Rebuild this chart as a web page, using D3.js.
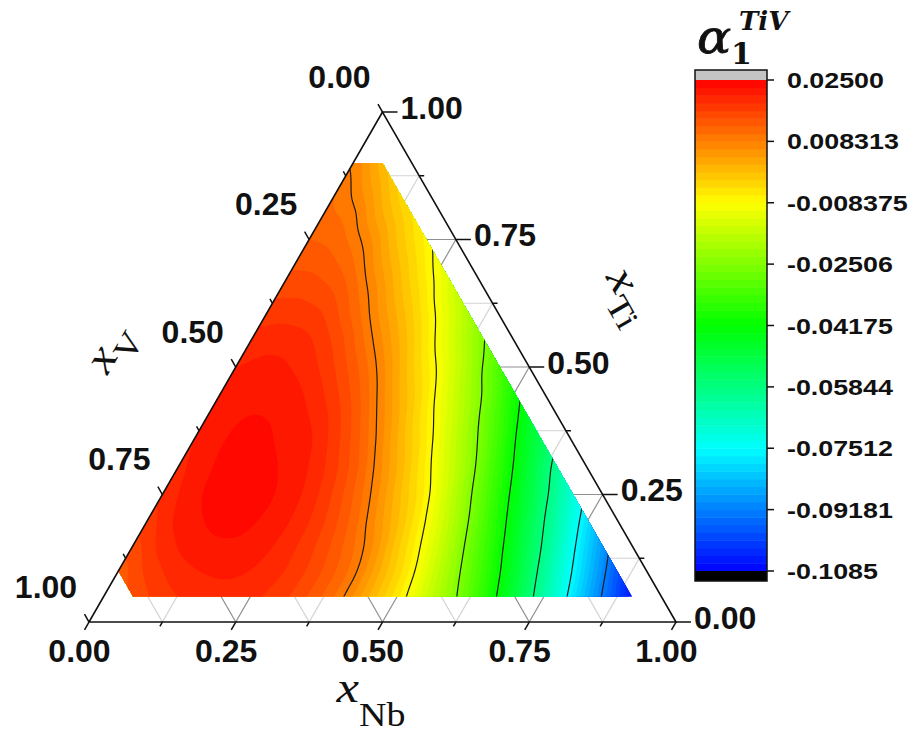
<!DOCTYPE html>
<html>
<head>
<meta charset="utf-8">
<script src="https://cdn.jsdelivr.net/npm/d3@7"></script>
<style>
  body { margin: 0; background: #fff; }
  svg { display: block; }
</style>
</head>
<body>
<svg id="chart" width="918" height="733"></svg>
<script>
// ---- data: alpha_1^TiV over the Nb–Ti–V composition triangle ----
// one row per Ti mole fraction, x_Nb stepping by 0.05 from nbFirst
const tiRows = [0.05, 0.10, 0.15, 0.20, 0.25, 0.30, 0.35, 0.40, 0.45,
                0.50, 0.55, 0.60, 0.65, 0.70, 0.75, 0.80, 0.85, 0.90];
const nbFirst = [0.05, 0, 0, 0, 0, 0, 0, 0, 0, 0, 0, 0, 0, 0, 0, 0, 0, 0];
const nbStep = 0.05;
const alphaRows = [
  [0.0150, 0.0178, 0.0193, 0.0198, 0.0192, 0.0175, 0.0142, 0.0095, 0.0022, -0.0056, -0.0148, -0.0247, -0.0369, -0.0497, -0.0635, -0.0782, -0.0924, -0.1060],
  [0.0135, 0.0172, 0.0198, 0.0210, 0.0212, 0.0200, 0.0178, 0.0142, 0.0092, 0.0012, -0.0074, -0.0178, -0.0291, -0.0415, -0.0546, -0.0687, -0.0830, -0.0975],
  [0.0158, 0.0195, 0.0218, 0.0226, 0.0222, 0.0203, 0.0174, 0.0132, 0.0074, -0.0013, -0.0104, -0.0216, -0.0338, -0.0467, -0.0596, -0.0740, -0.0884],
  [0.0178, 0.0212, 0.0230, 0.0234, 0.0226, 0.0204, 0.0168, 0.0115, 0.0042, -0.0040, -0.0139, -0.0259, -0.0389, -0.0517, -0.0649, -0.0792],
  [0.0192, 0.0222, 0.0236, 0.0236, 0.0226, 0.0199, 0.0154, 0.0090, 0.0009, -0.0073, -0.0185, -0.0309, -0.0440, -0.0565, -0.0701],
  [0.0202, 0.0226, 0.0236, 0.0233, 0.0220, 0.0188, 0.0135, 0.0059, -0.0025, -0.0118, -0.0231, -0.0361, -0.0490, -0.0618],
  [0.0208, 0.0228, 0.0234, 0.0227, 0.0211, 0.0168, 0.0104, 0.0020, -0.0064, -0.0168, -0.0283, -0.0415, -0.0538],
  [0.0211, 0.0227, 0.0229, 0.0218, 0.0193, 0.0141, 0.0067, -0.0019, -0.0108, -0.0216, -0.0338, -0.0467],
  [0.0212, 0.0222, 0.0220, 0.0203, 0.0166, 0.0107, 0.0026, -0.0056, -0.0156, -0.0264, -0.0390],
  [0.0208, 0.0214, 0.0206, 0.0181, 0.0134, 0.0068, -0.0016, -0.0099, -0.0204, -0.0321],
  [0.0196, 0.0200, 0.0190, 0.0155, 0.0095, 0.0025, -0.0058, -0.0151, -0.0253],
  [0.0180, 0.0180, 0.0166, 0.0119, 0.0053, -0.0018, -0.0101, -0.0198],
  [0.0160, 0.0158, 0.0138, 0.0083, 0.0011, -0.0062, -0.0151],
  [0.0142, 0.0136, 0.0106, 0.0040, -0.0030, -0.0105],
  [0.0125, 0.0113, 0.0070, -0.0003, -0.0071],
  [0.0110, 0.0088, 0.0022, -0.0043],
  [0.0100, 0.0050, -0.0021],
  [0.0078, 0.0008]
];

// colour scale ticks (also the contour-line levels)
const colorTicks = [0.02500, 0.008313, -0.008375, -0.02506, -0.04175,
                    -0.05844, -0.07512, -0.09181, -0.1085];
const colorTickLabels = ["0.02500", "0.008313", "-0.008375", "-0.02506", "-0.04175",
                         "-0.05844", "-0.07512", "-0.09181", "-0.1085"];
const valueMax = 0.025, valueMin = -0.1085;

// ternary axis ticks
const axisTicks = [0, 0.25, 0.5, 0.75, 1];
const axisTickLabels = ["0.00", "0.25", "0.50", "0.75", "1.00"];
const minorTicks = [0.125, 0.375, 0.625, 0.875];

// ---- layout ----
const svg = d3.select("#chart");
const sansBold = "'Liberation Sans', Arial, sans-serif";
const serif = "'Liberation Serif', 'Times New Roman', serif";

// x_Nb runs along the base, x_Ti upwards; x_V is the remainder
const xs = d3.scaleLinear().domain([0, 1]).range([89, 676]);
const ys = d3.scaleLinear().domain([0, 1]).range([622, 112]);
const P = (nb, ti) => [xs(nb + ti / 2), ys(ti)];

// hue runs red -> blue over the value range
const hue = d3.scaleLinear().domain([valueMax, valueMin]).range([0, 240]);
const colorOf = v => d3.hsl(hue(Math.max(valueMin, Math.min(valueMax, v))), 1, 0.5).toString();

// ---- gridded values on a regular (x_Nb, x_Ti) lattice ----
const N = 21;
const G = d3.range(N).map(() => new Array(N).fill(NaN));
tiRows.forEach((ti, r) => {
  const j = Math.round(ti / nbStep);
  const i0 = Math.round(nbFirst[r] / nbStep);
  alphaRows[r].forEach((v, k) => { G[j][i0 + k] = v; });
  // extend each row linearly beyond its ends (outside the plotted area)
  for (let i = i0 - 1; i >= 0; i--) G[j][i] = 2 * G[j][i + 1] - G[j][i + 2];
  for (let i = i0 + alphaRows[r].length; i < N; i++) G[j][i] = 2 * G[j][i - 1] - G[j][i - 2];
});
const jFirst = Math.round(tiRows[0] / nbStep), jLast = Math.round(tiRows[tiRows.length - 1] / nbStep);
for (let j = jFirst - 1; j >= 0; j--) for (let i = 0; i < N; i++) G[j][i] = 2 * G[j + 1][i] - G[j + 2][i];
for (let j = jLast + 1; j < N; j++) for (let i = 0; i < N; i++) G[j][i] = 2 * G[j - 1][i] - G[j - 2][i];

const clampI = k => Math.max(0, Math.min(N - 1, k));
const cr = (p0, p1, p2, p3, x) =>
  p1 + 0.5 * x * (p2 - p0 + x * (2 * p0 - 5 * p1 + 4 * p2 - p3 + x * (3 * (p1 - p2) + p3 - p0)));
function sample(nb, ti) {
  const u = nb / nbStep, w = ti / nbStep;
  const i1 = Math.floor(u), j1 = Math.floor(w);
  const fu = u - i1, fw = w - j1;
  const col = [];
  for (let dj = -1; dj <= 2; dj++) {
    const row = G[clampI(j1 + dj)];
    col.push(cr(row[clampI(i1 - 1)], row[clampI(i1)], row[clampI(i1 + 1)], row[clampI(i1 + 2)], fu));
  }
  return cr(col[0], col[1], col[2], col[3], fw);
}

// fine raster for the contour generator
const rStep = 0.004, nLo = -0.04, tLo = 0.0;
const cols = 250, rows = 240;
const raster = new Float64Array(cols * rows);
for (let j = 0; j < rows; j++)
  for (let i = 0; i < cols; i++)
    raster[j * cols + i] = sample(nLo + i * rStep, tLo + j * rStep);

const toPixels = d3.geoTransform({
  point(cx, cy) {
    const nb = nLo + (cx - 0.5) * rStep, ti = tLo + (cy - 0.5) * rStep;
    const p = P(nb, ti);
    this.stream.point(p[0], p[1]);
  }
});
const path = d3.geoPath(toPixels);

// outline of the composition range that carries data
const rightEnds = tiRows.map((ti, r) => [nbFirst[r] + (alphaRows[r].length - 1) * nbStep, ti]);
const leftEnds = tiRows.map((ti, r) => [nbFirst[r], ti]).reverse();
const domainPoly = rightEnds.concat(leftEnds).map(d => P(d[0], d[1]));

svg.append("defs").append("clipPath").attr("id", "dataClip")
  .append("polygon").attr("points", domainPoly.map(p => p.join(",")).join(" "));

// ---- ternary grid ----
const gridFracs = d3.range(1, 8).map(k => k / 8);
const grid = svg.append("g").attr("fill", "none");
gridFracs.forEach(f => {
  const major = Math.abs(f * 4 - Math.round(f * 4)) < 1e-9;
  const stroke = major ? "#8f8f8f" : "#d2d2d2";
  [[P(f, 0), P(f, 1 - f)], [P(0, f), P(1 - f, f)], [P(1 - f, 0), P(0, 1 - f)]].forEach(seg => {
    grid.append("line")
      .attr("x1", seg[0][0]).attr("y1", seg[0][1])
      .attr("x2", seg[1][0]).attr("y2", seg[1][1])
      .attr("stroke", stroke).attr("stroke-width", 1.2);
  });
});

// ---- filled contour bands ----
const nBands = 64;
const bandStep = (valueMax - valueMin) / nBands;
const bandThresholds = d3.range(nBands).map(k => valueMin + k * bandStep);
bandThresholds[0] = Math.min(valueMin, d3.min(raster)) - 1e-9;
const bands = d3.contours().size([cols, rows]).thresholds(bandThresholds)(raster);

const fillG = svg.append("g").attr("clip-path", "url(#dataClip)");
fillG.selectAll("path.band").data(bands).join("path")
  .attr("class", "band")
  .attr("d", path)
  .attr("fill", (d, k) => colorOf(valueMin + (k + 0.5) * bandStep))
  .attr("stroke", (d, k) => colorOf(valueMin + (k + 0.5) * bandStep))
  .attr("stroke-width", 0.6);

// contour lines at the inner colour-scale levels
const lineLevels = colorTicks.slice(1, -1);
const isolines = d3.contours().size([cols, rows]).thresholds(lineLevels)(raster);
fillG.selectAll("path.iso").data(isolines).join("path")
  .attr("class", "iso")
  .attr("d", path)
  .attr("fill", "none")
  .attr("stroke", "#1c1c1c")
  .attr("stroke-width", 1.2);

// ---- triangle frame ----
const A = P(0, 1), BL = P(0, 0), BR = P(1, 0);
svg.append("polygon")
  .attr("points", [A, BL, BR].map(p => p.join(",")).join(" "))
  .attr("fill", "none").attr("stroke", "#111").attr("stroke-width", 1.6);

// ---- ticks ----
const tickG = svg.append("g").attr("stroke", "#111").attr("stroke-width", 1.5);
const c60 = 0.5, s60 = Math.sqrt(3) / 2;
function tick(p, dx, dy, len) {
  tickG.append("line").attr("x1", p[0]).attr("y1", p[1])
    .attr("x2", p[0] + dx * len).attr("y2", p[1] + dy * len);
}
axisTicks.forEach(f => {
  tick(P(f, 0), -c60, s60, 9);          // x_Nb on the base
  tick(P(0, 1 - f), -c60, -s60, 9);     // x_V on the left side
  tick(P(1 - f, f), 1, 0, 15);          // x_Ti on the right side
});
minorTicks.forEach(f => {
  tick(P(f, 0), -c60, s60, 5);
  tick(P(0, 1 - f), -c60, -s60, 5);
  tick(P(1 - f, f), 1, 0, 5);
});

// ---- tick labels ----
const labG = svg.append("g")
  .attr("font-family", sansBold).attr("font-weight", "bold")
  .attr("font-size", 32).attr("fill", "#111");
axisTicks.forEach((f, k) => {
  const b = P(f, 0);
  labG.append("text").attr("x", b[0] - 9.5).attr("y", 662)
    .attr("text-anchor", "middle").text(axisTickLabels[k]);
  const l = P(0, 1 - f);
  labG.append("text").attr("x", l[0] - 43).attr("y", l[1] - 36 + 11.5)
    .attr("text-anchor", "middle").text(axisTickLabels[k]);
  const r = P(1 - f, f);
  labG.append("text").attr("x", r[0] + 18).attr("y", r[1] - 5 + 11.5)
    .attr("text-anchor", "start").text(axisTickLabels[k]);
});

// ---- axis titles: italic x with an upright, well-dropped subscript ----
function axisTitle(cx, cy, angle, sub, drop) {
  const g = svg.append("g")
    .attr("transform", `translate(${cx},${cy}) rotate(${angle}) scale(1.15,1)`);
  const t = g.append("text").attr("text-anchor", "middle").attr("y", 0)
    .attr("font-family", serif).attr("fill", "#111");
  t.append("tspan").attr("font-style", "italic").attr("font-size", 44).text("x");
  t.append("tspan").attr("font-size", 33).attr("dy", drop).text(sub);
}
axisTitle(371, 702, 0, "Nb", 24);
axisTitle(120, 354, -60, "V", 14);
axisTitle(619, 301, 60, "Ti", 14);

// ---- colour scale ----
const barX = 695, barW = 72;
const cy = d3.scaleLinear().domain([valueMin, valueMax]).range([571, 80]);
const barG = svg.append("g");
barG.selectAll("rect.band").data(d3.range(nBands)).join("rect")
  .attr("class", "band")
  .attr("x", barX).attr("width", barW)
  .attr("y", k => cy(valueMin + (k + 1) * bandStep))
  .attr("height", k => cy(valueMin + k * bandStep) - cy(valueMin + (k + 1) * bandStep) + 0.5)
  .attr("fill", k => colorOf(valueMin + (k + 0.5) * bandStep));
// over- and under-range caps
barG.append("rect").attr("x", barX).attr("width", barW)
  .attr("y", cy(valueMax) - 10).attr("height", 10).attr("fill", "#c4c4c4");
barG.append("rect").attr("x", barX).attr("width", barW)
  .attr("y", cy(valueMin)).attr("height", 10).attr("fill", "#000");
barG.append("rect").attr("x", barX).attr("width", barW)
  .attr("y", cy(valueMax) - 10).attr("height", cy(valueMin) - cy(valueMax) + 20)
  .attr("fill", "none").attr("stroke", "#111").attr("stroke-width", 1.5);

colorTicks.forEach((v, k) => {
  barG.append("line").attr("x1", barX + barW).attr("x2", barX + barW + 7)
    .attr("y1", cy(v)).attr("y2", cy(v)).attr("stroke", "#111").attr("stroke-width", 1.5);
  barG.append("text")
    .attr("transform", `translate(787,${cy(v) + 8}) scale(1.22,1)`)
    .attr("font-family", sansBold).attr("font-weight", "bold").attr("font-size", 22)
    .attr("fill", "#111").text(colorTickLabels[k]);
});

// colour scale title: alpha_1^TiV
const titleG = svg.append("g").attr("fill", "#111").attr("font-family", "'DejaVu Serif', serif");
titleG.append("text").attr("transform", "translate(697,53) scale(1.1,1)")
  .attr("font-style", "italic").attr("font-size", 46)
  .attr("stroke", "#111").attr("stroke-width", 0.8).text("α");
titleG.append("text").attr("x", 739).attr("y", 30)
  .attr("font-style", "italic").attr("font-weight", "bold").attr("font-size", 26).text("TiV");
titleG.append("text").attr("x", 731).attr("y", 64)
  .attr("font-weight", "bold").attr("font-size", 30).text("1");
</script>
</body>
</html>
